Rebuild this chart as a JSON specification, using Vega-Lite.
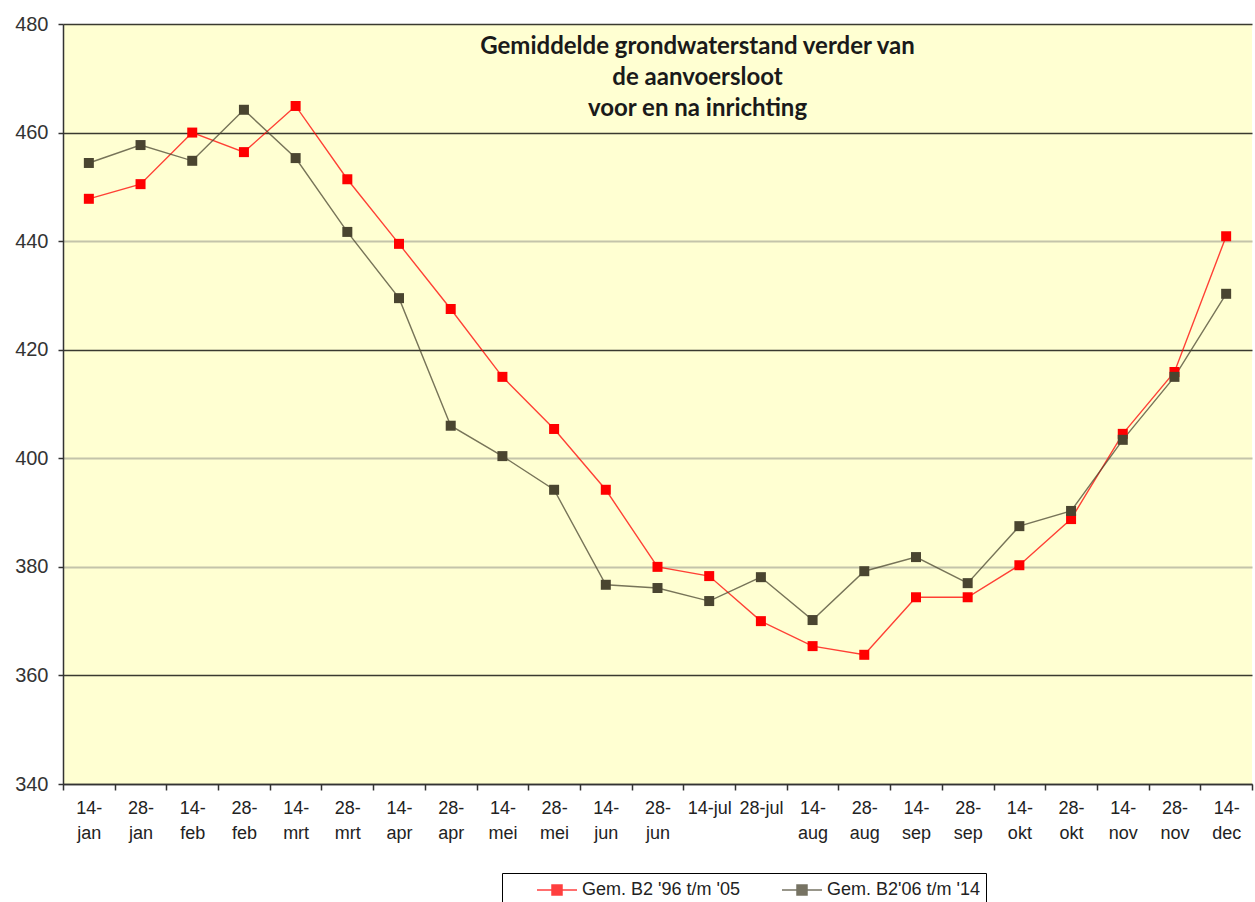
{
  "$schema": "https://vega.github.io/schema/vega-lite/v6.json",
  "width": 1189,
  "height": 760,
  "autosize": {"type": "none"},
  "padding": {"left": 63, "top": 24, "right": 3, "bottom": 118},
  "background": "white",
  "config": {
    "view": {"fill": "#ffffd2", "stroke": null},
    "font": "Liberation Sans"
  },
  "title": {
    "text": ["Gemiddelde grondwaterstand verder van", "de aanvoersloot", "voor en na inrichting"],
    "font": "Lato",
    "fontSize": 24,
    "fontWeight": "bold",
    "color": "#1a1a1a",
    "lineHeight": 31,
    "anchor": "middle",
    "frame": "group",
    "dx": 40,
    "offset": -107
  },
  "data": {
    "values": [
      {"date": "14-jan", "series": "Gem. B2 '96 t/m '05", "value": 447.8},
      {"date": "28-jan", "series": "Gem. B2 '96 t/m '05", "value": 450.5},
      {"date": "14-feb", "series": "Gem. B2 '96 t/m '05", "value": 460.0},
      {"date": "28-feb", "series": "Gem. B2 '96 t/m '05", "value": 456.4},
      {"date": "14-mrt", "series": "Gem. B2 '96 t/m '05", "value": 464.9},
      {"date": "28-mrt", "series": "Gem. B2 '96 t/m '05", "value": 451.4},
      {"date": "14-apr", "series": "Gem. B2 '96 t/m '05", "value": 439.5},
      {"date": "28-apr", "series": "Gem. B2 '96 t/m '05", "value": 427.5},
      {"date": "14-mei", "series": "Gem. B2 '96 t/m '05", "value": 415.0},
      {"date": "28-mei", "series": "Gem. B2 '96 t/m '05", "value": 405.4},
      {"date": "14-jun", "series": "Gem. B2 '96 t/m '05", "value": 394.2},
      {"date": "28-jun", "series": "Gem. B2 '96 t/m '05", "value": 380.0},
      {"date": "14-jul", "series": "Gem. B2 '96 t/m '05", "value": 378.3},
      {"date": "28-jul", "series": "Gem. B2 '96 t/m '05", "value": 370.0},
      {"date": "14-aug", "series": "Gem. B2 '96 t/m '05", "value": 365.4},
      {"date": "28-aug", "series": "Gem. B2 '96 t/m '05", "value": 363.8},
      {"date": "14-sep", "series": "Gem. B2 '96 t/m '05", "value": 374.4},
      {"date": "28-sep", "series": "Gem. B2 '96 t/m '05", "value": 374.4},
      {"date": "14-okt", "series": "Gem. B2 '96 t/m '05", "value": 380.3},
      {"date": "28-okt", "series": "Gem. B2 '96 t/m '05", "value": 388.8},
      {"date": "14-nov", "series": "Gem. B2 '96 t/m '05", "value": 404.5},
      {"date": "28-nov", "series": "Gem. B2 '96 t/m '05", "value": 415.9},
      {"date": "14-dec", "series": "Gem. B2 '96 t/m '05", "value": 440.9},
      {"date": "14-jan", "series": "Gem. B2'06 t/m '14", "value": 454.4},
      {"date": "28-jan", "series": "Gem. B2'06 t/m '14", "value": 457.7},
      {"date": "14-feb", "series": "Gem. B2'06 t/m '14", "value": 454.8},
      {"date": "28-feb", "series": "Gem. B2'06 t/m '14", "value": 464.2},
      {"date": "14-mrt", "series": "Gem. B2'06 t/m '14", "value": 455.3},
      {"date": "28-mrt", "series": "Gem. B2'06 t/m '14", "value": 441.7},
      {"date": "14-apr", "series": "Gem. B2'06 t/m '14", "value": 429.5},
      {"date": "28-apr", "series": "Gem. B2'06 t/m '14", "value": 406.0},
      {"date": "14-mei", "series": "Gem. B2'06 t/m '14", "value": 400.4},
      {"date": "28-mei", "series": "Gem. B2'06 t/m '14", "value": 394.2},
      {"date": "14-jun", "series": "Gem. B2'06 t/m '14", "value": 376.7},
      {"date": "28-jun", "series": "Gem. B2'06 t/m '14", "value": 376.1},
      {"date": "14-jul", "series": "Gem. B2'06 t/m '14", "value": 373.7},
      {"date": "28-jul", "series": "Gem. B2'06 t/m '14", "value": 378.1},
      {"date": "14-aug", "series": "Gem. B2'06 t/m '14", "value": 370.2},
      {"date": "28-aug", "series": "Gem. B2'06 t/m '14", "value": 379.2},
      {"date": "14-sep", "series": "Gem. B2'06 t/m '14", "value": 381.8},
      {"date": "28-sep", "series": "Gem. B2'06 t/m '14", "value": 377.0},
      {"date": "14-okt", "series": "Gem. B2'06 t/m '14", "value": 387.5},
      {"date": "28-okt", "series": "Gem. B2'06 t/m '14", "value": 390.3},
      {"date": "14-nov", "series": "Gem. B2'06 t/m '14", "value": 403.4},
      {"date": "28-nov", "series": "Gem. B2'06 t/m '14", "value": 415.0},
      {"date": "14-dec", "series": "Gem. B2'06 t/m '14", "value": 430.3}
    ]
  },
  "encoding": {
    "x": {
      "field": "date",
      "type": "nominal",
      "sort": null,
      "scale": {"paddingInner": 0, "paddingOuter": 0},
      "axis": {
        "title": null,
        "labelAngle": 0,
        "labelFontSize": 18,
        "labelColor": "#222222",
        "labelLineHeight": 25,
        "labelPadding": 9,
        "labelExpr": "indexof(datum.label, 'jul') >= 0 ? datum.label : [slice(datum.label, 0, 3), slice(datum.label, 3)]",
        "tickBand": "extent",
        "tickSize": 6,
        "tickColor": "#333333",
        "tickWidth": 1.5,
        "domainColor": "#333333",
        "domainWidth": 1.5,
        "grid": false
      }
    },
    "y": {
      "field": "value",
      "type": "quantitative",
      "scale": {"domain": [340, 480], "nice": false, "zero": false},
      "axis": {
        "title": null,
        "values": [340, 360, 380, 400, 420, 440, 460, 480],
        "labelFontSize": 20,
        "labelColor": "#333333",
        "labelPadding": 10,
        "tickSize": 5,
        "tickColor": "#333333",
        "tickWidth": 1.5,
        "domainColor": "#333333",
        "domainWidth": 1.5,
        "grid": true,
        "gridColor": {"condition": {"test": "datum.value == 460 || datum.value == 420 || datum.value == 360 || datum.value == 480 || datum.value == 340", "value": "#3a3a30"}, "value": "#c4c4aa"},
        "gridWidth": {"condition": {"test": "datum.value == 460 || datum.value == 420 || datum.value == 360 || datum.value == 480 || datum.value == 340", "value": 1.5}, "value": 2}
      }
    },
    "color": {
      "field": "series",
      "type": "nominal",
      "sort": null,
      "scale": {"domain": ["Gem. B2 '96 t/m '05", "Gem. B2'06 t/m '14"], "range": ["#ff0000", "#4a4530"]},
      "legend": {
        "title": null,
        "orient": "none",
        "legendX": 439,
        "legendY": 849,
        "direction": "horizontal",
        "columns": 2,
        "strokeColor": "#000000",
        "fillColor": "#ffffff",
        "padding": 6,
        "columnPadding": 13,
        "labelFont": "Liberation Sans",
        "labelFontSize": 18,
        "labelColor": "#222222",
        "labelOffset": 14,
        "symbolType": "M-2,0H2M-0.5,-0.5H0.5V0.5H-0.5Z",
        "symbolSize": 400,
        "symbolStrokeWidth": 1.5,
        "symbolOffset": 38
      }
    }
  },
  "layer": [
    {
      "mark": {"type": "line", "strokeWidth": 1.4, "opacity": 0.75}
    },
    {
      "mark": {"type": "point", "shape": "square", "filled": true, "size": 100, "opacity": 1}
    }
  ]
}
